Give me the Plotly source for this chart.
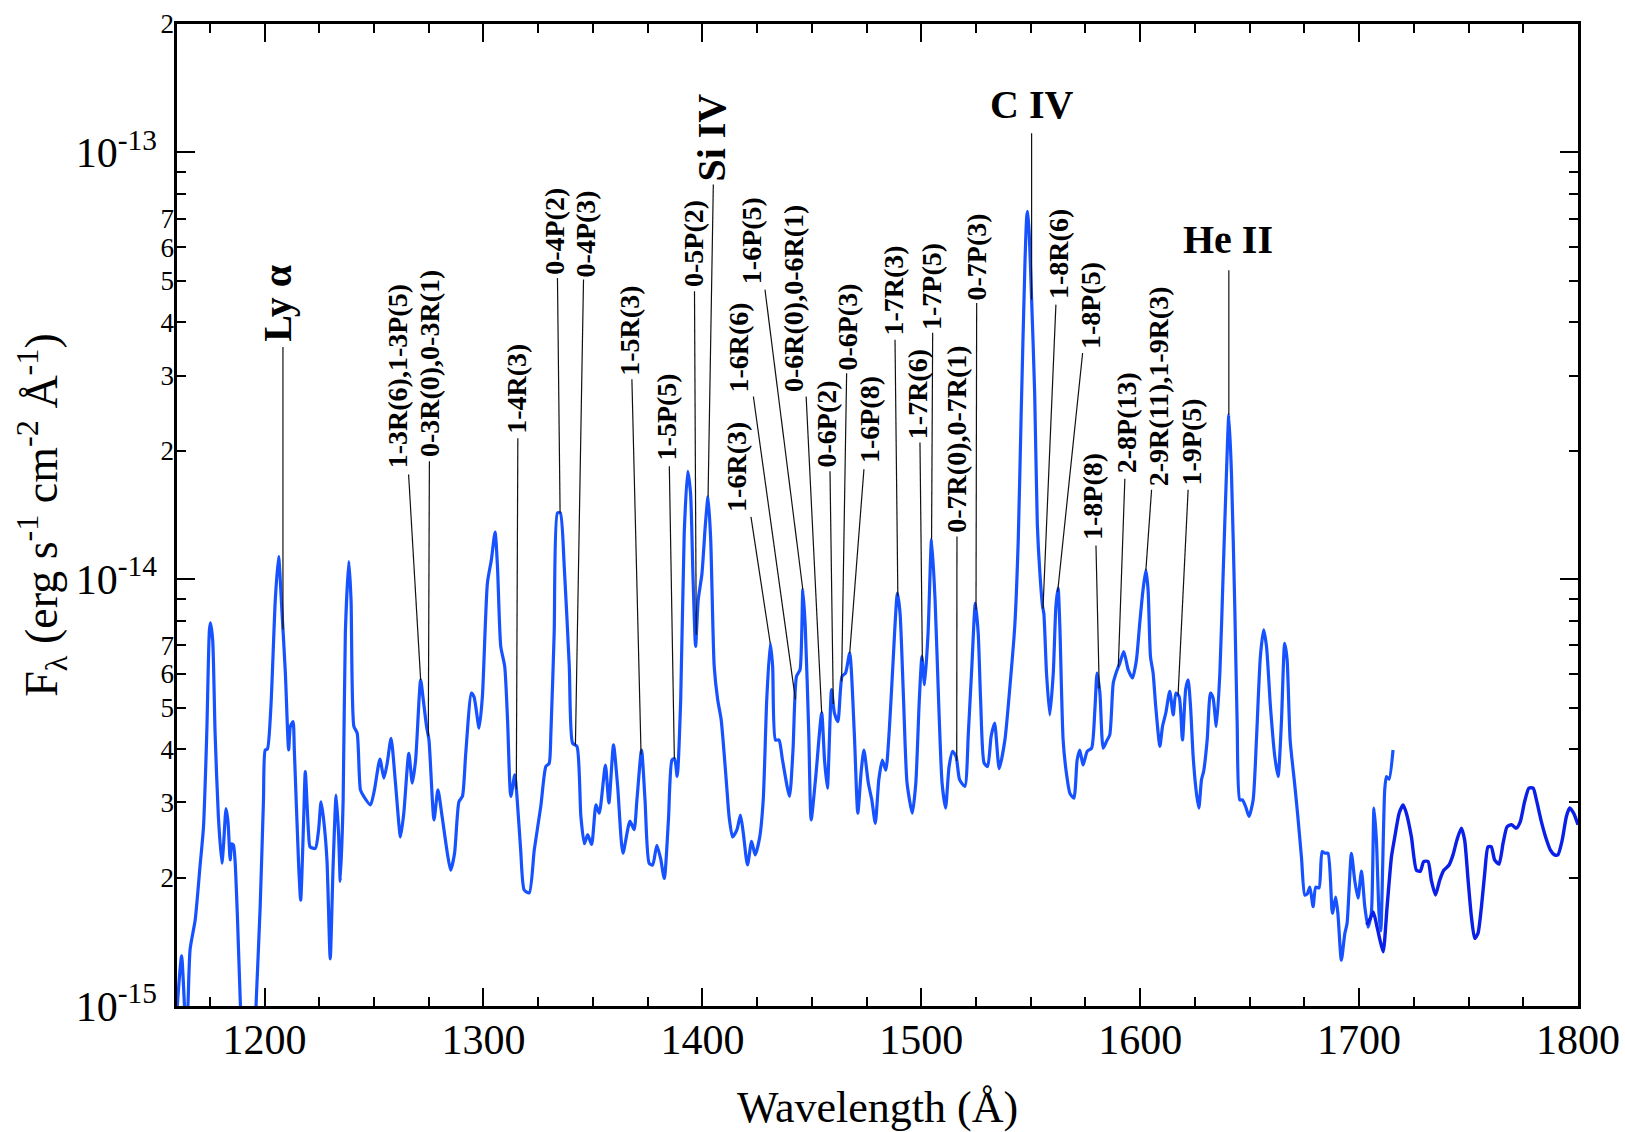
import numpy as np
import plotly.graph_objects as go

UNIT = 1e-15  # flux values below are in units of 1e-15 erg s^-1 cm^-2 A^-1

# ---------------- spectrum (main segment) ----------------
wave_main = [
    1160.0, 1162.1, 1163.4, 1164.2, 1165.0, 1166.0, 1168.3, 1170.5, 1172.1, 1173.6,
    1174.8, 1175.3, 1176.3, 1177.4, 1178.9, 1180.5, 1181.3, 1182.4, 1183.3, 1184.3,
    1185.0, 1185.8, 1186.5, 1187.6, 1188.9, 1190.5, 1193.0, 1195.2, 1196.2, 1198.0,
    1199.5, 1200.3, 1201.3, 1202.9, 1204.9, 1206.4, 1207.9, 1209.5, 1211.0, 1211.8,
    1213.0, 1213.6, 1215.6, 1216.5, 1217.9, 1218.6, 1220.1, 1220.8, 1223.2, 1224.7,
    1225.8, 1227.0, 1228.5, 1230.0, 1231.3, 1232.7, 1233.8, 1234.6, 1235.9, 1236.9,
    1238.5, 1239.5, 1240.8, 1242.3, 1243.8, 1245.3, 1248.4, 1250.2, 1252.7, 1254.5,
    1256.0, 1257.8, 1259.8, 1262.1, 1263.6, 1265.9, 1267.5, 1269.0, 1271.3, 1272.5,
    1274.0, 1275.1, 1277.4, 1279.2, 1281.1, 1283.5, 1285.0, 1286.8, 1288.8, 1290.4,
    1291.9, 1294.5, 1295.7, 1298.0, 1299.5, 1301.8, 1303.6, 1305.3, 1306.4, 1307.9,
    1309.7, 1311.0, 1312.5, 1314.3, 1315.2, 1317.0, 1318.6, 1320.9, 1323.2, 1326.2,
    1328.5, 1330.0, 1330.8, 1332.3, 1333.8, 1335.1, 1336.9, 1339.2, 1340.7, 1342.7,
    1344.5, 1346.1, 1347.6, 1349.4, 1351.4, 1352.9, 1355.7, 1357.3, 1359.4, 1361.3,
    1363.7, 1366.9, 1368.8, 1370.1, 1372.2, 1373.8, 1375.7, 1377.3, 1379.2, 1380.9,
    1382.6, 1384.5, 1386.1, 1387.3, 1388.5, 1390.1, 1391.7, 1393.3, 1394.6, 1395.7,
    1396.9, 1398.1, 1399.8, 1401.4, 1402.6, 1403.8, 1405.4, 1407.0, 1408.6, 1411.0,
    1412.2, 1413.8, 1415.8, 1417.4, 1418.7, 1420.6, 1422.5, 1424.1, 1426.2, 1427.8,
    1429.4, 1431.0, 1432.1, 1433.4, 1435.0, 1436.6, 1439.8, 1441.4, 1443.0, 1444.6,
    1445.9, 1447.0, 1448.6, 1449.7, 1451.8, 1454.5, 1455.8, 1457.1, 1459.0, 1460.3,
    1461.9, 1463.8, 1465.4, 1467.3, 1469.4, 1471.0, 1472.6, 1473.8, 1475.8, 1477.4,
    1479.0, 1480.6, 1482.2, 1483.8, 1485.4, 1487.0, 1489.1, 1490.3, 1491.9, 1493.5,
    1495.9, 1497.5, 1499.1, 1500.3, 1501.5, 1503.1, 1504.7, 1506.3, 1507.9, 1509.5,
    1511.1, 1512.7, 1514.3, 1515.9, 1517.5, 1519.9, 1521.5, 1523.1, 1524.7, 1526.0,
    1527.1, 1528.7, 1530.3, 1531.9, 1533.5, 1535.6, 1538.2, 1540.5, 1542.7, 1544.3,
    1545.6, 1547.4, 1548.2, 1548.6, 1549.3, 1550.3, 1551.8, 1553.0, 1554.2, 1555.4,
    1556.0, 1557.2, 1558.7, 1560.3, 1561.5, 1562.5, 1563.3, 1564.8, 1566.3, 1567.9,
    1569.7, 1571.2, 1572.4, 1573.9, 1575.8, 1577.8, 1579.3, 1580.3, 1581.6, 1583.1,
    1584.6, 1586.1, 1587.7, 1589.2, 1590.7, 1592.5, 1594.5, 1596.5, 1598.3, 1599.8,
    1601.3, 1602.6, 1603.6, 1604.7, 1605.9, 1607.1, 1609.0, 1610.2, 1611.7, 1613.5,
    1615.1, 1616.3, 1617.8, 1619.3, 1620.8, 1621.9, 1623.0, 1624.2, 1625.7, 1626.8,
    1628.0, 1629.0, 1630.6, 1632.1, 1633.3, 1634.8, 1636.4, 1637.9, 1639.4, 1640.5,
    1641.7, 1643.2, 1644.3, 1645.5, 1646.7, 1648.2, 1649.7, 1651.6, 1653.1, 1654.9,
    1656.4, 1657.7, 1659.5, 1661.5, 1663.0, 1664.5, 1666.0, 1667.1, 1668.5, 1670.6,
    1672.1, 1673.7, 1675.2, 1676.3, 1677.5, 1679.0, 1680.2, 1681.7, 1683.1, 1684.4,
    1685.8, 1687.8, 1689.3, 1690.3, 1691.9, 1693.5, 1694.5, 1696.5, 1698.0, 1699.5,
    1701.1, 1702.6, 1704.1, 1705.6, 1706.8, 1707.9, 1709.1, 1709.9, 1711.7, 1712.5,
    1713.7, 1715.5,
]
flux_main = [
    0.98, 1.31, 1.0, 0.8, 1.0, 1.36, 1.59, 2.12, 2.63, 4.36,
    7.6, 7.9, 7.2, 4.36, 2.78, 2.16, 2.4, 2.9, 2.7, 2.2,
    2.4, 2.38, 2.2, 1.62, 1.03, 0.7, 0.6, 0.75, 1.03, 1.71,
    3.04, 3.98, 4.0, 5.03, 8.95, 11.3, 8.48, 6.03, 3.98, 4.52,
    4.64, 3.98, 2.12, 1.77, 2.78, 3.54, 2.54, 2.36, 2.34, 2.59,
    3.01, 2.73, 2.2, 1.29, 2.12, 3.12, 2.54, 1.96, 3.04, 7.48,
    11.0, 8.95, 4.52, 4.36, 3.21, 3.1, 2.96, 3.21, 3.79, 3.42,
    3.7, 4.24, 3.33, 2.49, 2.83, 3.91, 3.33, 3.77, 5.81, 5.22,
    4.52, 4.2, 2.73, 3.21, 2.78, 2.28, 2.08, 2.28, 3.01, 3.1,
    3.91, 5.41, 5.3, 4.48, 5.3, 9.8, 11.1, 12.9, 10.7, 6.96,
    6.25, 4.68, 3.1, 3.48, 3.15, 2.32, 1.87, 1.84, 2.32, 2.94,
    3.64, 3.7, 4.36, 7.48, 14.3, 14.3, 10.7, 6.25, 4.13, 4.06,
    2.78, 2.4, 2.52, 2.39, 2.96, 2.83, 3.67, 2.99, 4.09, 3.27,
    2.28, 2.71, 2.59, 3.04, 3.98, 3.04, 2.16, 2.14, 2.38, 2.22,
    1.99, 2.73, 3.77, 3.8, 3.45, 5.22, 12.8, 17.9, 15.9, 10.2,
    6.96, 8.95, 10.3, 13.5, 15.6, 12.4, 6.25, 5.22, 4.68, 3.33,
    2.78, 2.49, 2.59, 2.8, 2.54, 2.14, 2.43, 2.26, 2.49, 3.04,
    5.22, 7.08, 6.25, 4.2, 4.2, 3.77, 3.1, 3.98, 5.92, 6.13,
    9.45, 7.75, 4.36, 2.73, 3.45, 4.86, 3.77, 3.24, 5.51, 4.86,
    4.64, 5.92, 6.03, 6.71, 4.36, 2.83, 3.57, 3.98, 3.33, 3.04,
    2.68, 3.39, 3.77, 3.57, 4.44, 6.25, 9.28, 8.33, 5.22, 3.33,
    2.83, 3.33, 5.22, 6.59, 5.66, 7.48, 12.4, 8.95, 5.22, 3.33,
    2.91, 3.64, 3.95, 3.84, 3.39, 3.27, 4.36, 6.25, 8.79, 7.48,
    5.22, 3.71, 3.64, 4.28, 4.6, 3.6, 4.2, 5.61, 7.75, 12.4,
    24.0, 56.0, 71.0, 72.8, 64.8, 46.9, 27.3, 13.5, 10.3, 8.64,
    8.3, 6.03, 4.81, 6.03, 8.64, 9.53, 7.75, 4.2, 3.51, 3.15,
    3.07, 3.77, 3.98, 3.67, 3.95, 4.02, 4.94, 6.03, 5.41, 4.02,
    4.17, 4.32, 5.71, 6.08, 6.36, 6.77, 6.14, 5.87, 6.48, 7.89,
    9.45, 10.5, 9.45, 6.59, 6.03, 5.03, 4.06, 4.52, 4.86, 5.46,
    4.81, 5.41, 5.31, 4.2, 5.53, 5.81, 5.03, 3.84, 3.15, 2.91,
    3.39, 3.55, 4.2, 5.41, 5.27, 4.52, 6.03, 10.3, 17.7, 24.3,
    17.7, 8.64, 4.6, 3.04, 3.04, 2.93, 2.78, 3.04, 4.2, 6.59,
    7.61, 6.96, 5.03, 3.84, 3.45, 4.6, 7.08, 6.5, 4.2, 3.3,
    2.75, 2.22, 1.82, 1.83, 1.9, 1.71, 1.9, 1.89, 2.3, 2.28,
    2.28, 1.65, 1.8, 1.65, 1.28, 1.48, 1.56, 2.28, 1.97, 1.79,
    2.07, 1.71, 1.53, 1.65, 2.91, 2.45, 1.65, 1.5, 3.21, 3.45,
    3.4, 3.98,
]

# ---------------- spectrum (long-wavelength segment) ----------------
wave_long = [
    1703.5, 1705.0, 1706.5, 1708.0, 1709.5, 1711.0, 1712.8, 1714.8, 1716.3, 1718.3,
    1720.1, 1721.6, 1723.9, 1726.2, 1728.0, 1729.5, 1731.5, 1733.0, 1734.9, 1736.8,
    1738.7, 1741.1, 1742.9, 1744.7, 1746.7, 1748.2, 1749.8, 1751.3, 1752.8, 1754.3,
    1755.9, 1757.4, 1758.9, 1760.4, 1761.9, 1763.9, 1765.8, 1767.6, 1769.6, 1771.8,
    1773.6, 1775.6, 1777.6, 1779.5, 1781.0, 1783.3, 1785.2, 1787.4, 1789.3, 1790.8,
    1792.8, 1794.7, 1796.2, 1798.0, 1800.0,
]
flux_long = [
    1.55, 1.6, 1.66, 1.55, 1.43, 1.34, 1.71, 2.24, 2.49, 2.83,
    2.96, 2.83, 2.49, 2.08, 2.07, 2.18, 2.18, 1.97, 1.82, 1.97,
    2.08, 2.14, 2.26, 2.45, 2.61, 2.45, 1.97, 1.62, 1.44, 1.48,
    1.71, 2.05, 2.36, 2.36, 2.2, 2.15, 2.41, 2.63, 2.66, 2.61,
    2.7, 3.01, 3.24, 3.24, 3.04, 2.7, 2.49, 2.32, 2.26, 2.26,
    2.45, 2.78, 2.91, 2.83, 2.66,
]

# ---------------- line identifications ----------------
label_texts = [
    "Ly α", "1-3R(6),1-3P(5)", "0-3R(0),0-3R(1)", "1-4R(3)", "0-4P(2)", "0-4P(3)",
    "1-5R(3)", "1-5P(5)", "0-5P(2)", "Si IV", "1-6R(3)", "1-6R(6)", "1-6P(5)",
    "0-6R(0),0-6R(1)", "0-6P(2)", "0-6P(3)", "1-6P(8)", "1-7R(3)", "1-7R(6)",
    "1-7P(5)", "0-7R(0),0-7R(1)", "0-7P(3)", "C IV", "1-8R(6)", "1-8P(5)",
    "1-8P(8)", "2-8P(13)", "2-9R(11),1-9R(3)", "1-9P(5)", "He II",
]
# wavelength each label points to
label_targets = [
    1208.4, 1271.3, 1274.8, 1315.0, 1335.0, 1342.0, 1372.0, 1387.2, 1397.2, 1402.6,
    1431.0, 1442.5, 1445.9, 1454.5, 1459.8, 1463.6, 1467.3, 1489.3, 1500.5, 1504.7,
    1516.2, 1525.0, 1550.4, 1555.6, 1562.3, 1581.3, 1590.0, 1602.6, 1617.3, 1640.5,
]

# placement (layout): text x, text bottom (flux unit), line start x, line start y, big?, vertical?
label_place = [
    (1205.9, 35.8, 1208.4, 35.0, True, True),
    (1260.5, 18.1, 1265.8, 17.6, False, True),
    (1275.7, 19.2, 1275.3, 18.9, False, True),
    (1315.3, 21.8, 1315.7, 21.4, False, True),
    (1332.3, 51.3, 1333.8, 50.8, False, True),
    (1346.8, 50.8, 1345.7, 50.4, False, True),
    (1366.7, 29.9, 1367.8, 29.4, False, True),
    (1383.7, 18.9, 1384.9, 18.4, False, True),
    (1395.6, 48.2, 1396.4, 47.3, False, True),
    (1404.3, 84.9, 1405.0, 84.1, True, True),
    (1415.8, 14.3, 1422.2, 14.0, False, True),
    (1416.5, 27.3, 1423.3, 26.8, False, True),
    (1422.2, 49.0, 1428.6, 47.7, False, True),
    (1441.6, 27.3, 1447.4, 26.8, False, True),
    (1456.8, 18.2, 1458.3, 17.9, False, True),
    (1466.4, 30.7, 1465.9, 30.4, False, True),
    (1476.3, 18.6, 1473.8, 18.1, False, True),
    (1487.2, 37.1, 1488.0, 36.4, False, True),
    (1498.6, 21.2, 1499.4, 20.9, False, True),
    (1505.0, 38.1, 1505.2, 37.8, False, True),
    (1516.2, 12.8, 1516.3, 12.6, False, True),
    (1525.3, 44.8, 1525.3, 44.4, False, True),
    (1550.4, 114.0, 1550.4, 111.0, True, False),
    (1562.6, 45.2, 1561.5, 44.0, False, True),
    (1577.0, 34.5, 1573.7, 33.9, False, True),
    (1578.3, 12.3, 1579.8, 12.0, False, True),
    (1594.1, 17.6, 1593.0, 17.2, False, True),
    (1608.5, 16.4, 1605.2, 16.2, False, True),
    (1623.5, 16.5, 1621.9, 16.2, False, True),
    (1640.2, 55.0, 1640.5, 53.0, True, False),
]

# axis tick labels
x_tickvals = [1200, 1300, 1400, 1500, 1600, 1700, 1800]
y_major_vals = [1e-15, 1e-14, 1e-13]
y_major_text = ["10<sup>-15</sup>", "10<sup>-14</sup>", "10<sup>-13</sup>"]
y_minor_vals = [m * d for d in (1e-15, 1e-14) for m in range(2, 8)] + [2e-13]
y_minor_text = [str(m) for d in (1e-15, 1e-14) for m in range(2, 8)] + ["2"]
y_unlabeled_vals = [m * d for d in (1e-15, 1e-14) for m in (8, 9)]

FONT = "Liberation Serif, Times New Roman, serif"
Y_RANGE = [-15, float(np.log10(2e-13))]
X_RANGE = [1160, 1800]

fig = go.Figure()

fig.add_trace(go.Scatter(
    x=wave_main, y=[f * UNIT for f in flux_main], mode="lines",
    line=dict(color="#1652ff", width=3.2, shape="spline", smoothing=0.6),
    hoverinfo="skip", showlegend=False))
fig.add_trace(go.Scatter(
    x=wave_long, y=[f * UNIT for f in flux_long], mode="lines",
    line=dict(color="#0a1fe8", width=3.4, shape="spline", smoothing=0.6),
    hoverinfo="skip", showlegend=False))

# leader lines: from label to the spectrum at the target wavelength
lx, ly = [], []
logf = np.log10(np.array(flux_main))
for tgt, (tx, tb, x0, y0, big, vert) in zip(label_targets, label_place):
    yend = 10 ** np.interp(tgt, wave_main, logf)
    lx += [x0, tgt, None]
    ly += [y0 * UNIT, yend * UNIT, None]
fig.add_trace(go.Scatter(x=lx, y=ly, mode="lines", line=dict(color="#111", width=1.2),
                         hoverinfo="skip", showlegend=False))

annotations = []
for txt, (tx, tb, x0, y0, big, vert) in zip(label_texts, label_place):
    annotations.append(dict(
        x=tx, y=float(np.log10(tb * UNIT)), xref="x", yref="y",
        text="<b>%s</b>" % txt, showarrow=False,
        textangle=-90 if vert else 0,
        xanchor="center", yanchor="bottom",
        font=dict(family=FONT, size=40 if big else 28, color="black"),
        borderpad=0,
    ))

axis_common = dict(showline=True, linecolor="black", linewidth=2.5, mirror="ticks",
                   ticks="inside", tickcolor="black", tickwidth=2, showgrid=False,
                   zeroline=False, automargin=False)

fig.update_layout(
    width=1625, height=1132,
    margin=dict(l=177, r=47, t=24, b=126),
    paper_bgcolor="white", plot_bgcolor="white",
    font=dict(family=FONT, color="black"),
    annotations=annotations,
    xaxis=dict(
        **axis_common, range=X_RANGE, tickvals=x_tickvals, ticklen=18,
        tickfont=dict(size=42, family=FONT), ticklabelstandoff=-5,
        minor=dict(dtick=25, tick0=1200, ticklen=9, tickwidth=2, ticks="inside",
                   tickcolor="black", showgrid=False),
        title=dict(text="Wavelength (Å)", font=dict(size=44, family=FONT), standoff=30),
    ),
    yaxis=dict(
        **axis_common, type="log", range=Y_RANGE, tickvals=y_major_vals,
        ticktext=y_major_text, ticklen=18, tickfont=dict(size=42, family=FONT),
        ticklabelstandoff=9,
        title=dict(text="F<sub>λ</sub> (erg s<sup>-1</sup> cm<sup>-2</sup> Å<sup>-1</sup>)",
                   font=dict(size=46, family=FONT), standoff=4),
    ),
    yaxis2=dict(
        overlaying="y", anchor="x", side="left", type="log", range=Y_RANGE,
        tickvals=y_minor_vals, ticktext=y_minor_text, ticks="inside", ticklen=9,
        tickwidth=2, tickcolor="black", mirror="ticks", showline=False,
        showgrid=False, zeroline=False, tickfont=dict(size=27, family=FONT),
        ticklabelstandoff=2, automargin=False,
        minor=dict(tickvals=y_unlabeled_vals, ticks="inside", ticklen=9, tickwidth=2,
                   tickcolor="black", showgrid=False),
    ),
)
# attach an invisible trace to yaxis2 so it renders
fig.add_trace(go.Scatter(x=[X_RANGE[0]], y=[1e-14], yaxis="y2", mode="markers",
                         marker=dict(opacity=0), hoverinfo="skip", showlegend=False))

fig.write_html("out.html", config={"displayModeBar": False},
               post_script="document.body.style.margin='0';")
